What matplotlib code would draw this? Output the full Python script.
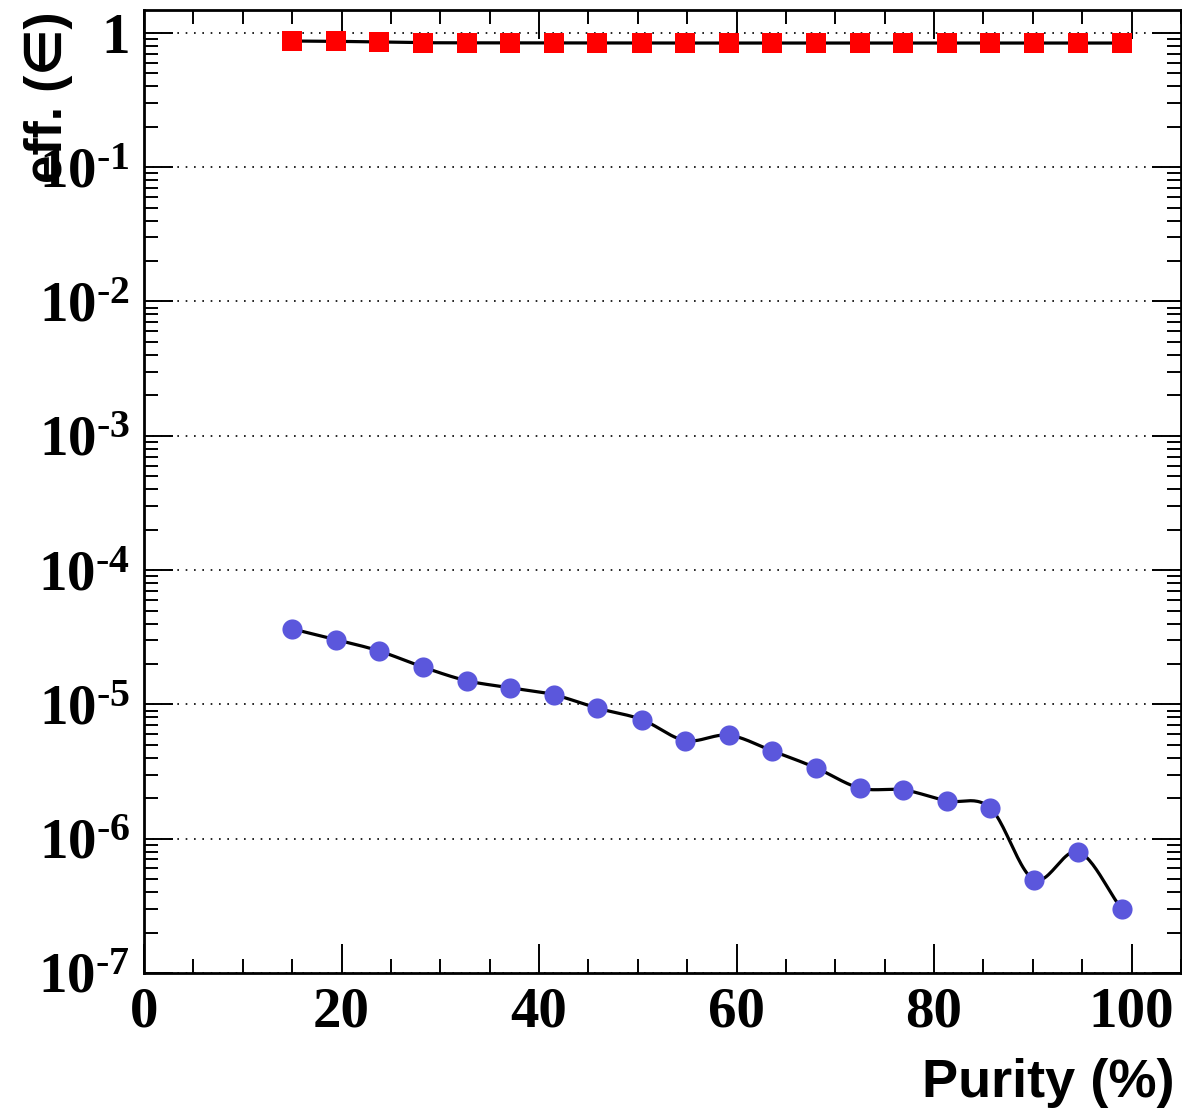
import numpy as np
import matplotlib
matplotlib.use("Agg")
import matplotlib.pyplot as plt
from matplotlib.ticker import FixedLocator, LogLocator, NullFormatter, FuncFormatter

plt.rcParams["font.family"] = ["Liberation Serif", "DejaVu Serif"]
plt.rcParams["font.weight"] = "bold"
plt.rcParams["mathtext.fontset"] = "custom"
plt.rcParams["mathtext.bf"] = "Liberation Serif:bold"
plt.rcParams["mathtext.rm"] = "Liberation Serif:bold"
plt.rcParams["mathtext.it"] = "Liberation Serif:bold"

# ---- data ----
purity = [15.0, 19.4, 23.8, 28.3, 32.7, 37.1, 41.5, 45.9, 50.4, 54.8,
          59.2, 63.6, 68.0, 72.5, 76.9, 81.3, 85.7, 90.1, 94.6, 99.0]
eff_signal = [0.870, 0.865, 0.855, 0.845, 0.843, 0.842, 0.840, 0.840, 0.840, 0.840,
              0.840, 0.840, 0.840, 0.840, 0.840, 0.840, 0.840, 0.840, 0.840, 0.840]
eff_background = [3.65e-5, 3.04e-5, 2.50e-5, 1.89e-5, 1.50e-5, 1.33e-5, 1.18e-5, 9.37e-6,
                  7.71e-6, 5.38e-6, 5.90e-6, 4.51e-6, 3.38e-6, 2.38e-6, 2.31e-6, 1.91e-6,
                  1.69e-6, 4.96e-7, 7.98e-7, 2.99e-7]
x_ticks = [0, 20, 40, 60, 80, 100]
y_decades = [1e-7, 1e-6, 1e-5, 1e-4, 1e-3, 1e-2, 1e-1, 1]


def smooth(x, y, n=24):
    """Catmull-Rom curve through points, in (x, log10 y) space (ROOT 'C' style)."""
    px = np.asarray(x, float)
    py = np.log10(np.asarray(y, float))
    P = np.column_stack([px, py])
    P = np.vstack([2 * P[0] - P[1], P, 2 * P[-1] - P[-2]])
    out = []
    t = np.linspace(0, 1, n, endpoint=False)[:, None]
    for i in range(1, len(P) - 2):
        p0, p1, p2, p3 = P[i - 1], P[i], P[i + 1], P[i + 2]
        seg = 0.5 * ((2 * p1) + (-p0 + p2) * t + (2 * p0 - 5 * p1 + 4 * p2 - p3) * t ** 2
                     + (-p0 + 3 * p1 - 3 * p2 + p3) * t ** 3)
        out.append(seg)
    out.append(P[-2][None, :])
    out = np.vstack(out)
    return out[:, 0], 10 ** out[:, 1]


fig = plt.figure(figsize=(11.82, 11.17), dpi=100)
ax = fig.add_axes([144 / 1182, (1117 - 973) / 1117, (1181 - 144) / 1182, (973 - 10) / 1117])
ax.set_yscale("log")
ax.set_xlim(0, 105)
ax.set_ylim(1e-7, 1.48)

# grid (y decades only)
for yv in y_decades:
    ax.axhline(yv, color="black", lw=1.2, ls=(0, (1, 4)), zorder=1)

sx, sy = smooth(purity, eff_signal)
ax.plot(sx, sy, color="black", lw=2.3, zorder=2)
bx, by = smooth(purity, eff_background)
ax.plot(bx, by, color="black", lw=2.3, zorder=2)

ax.plot(purity, eff_signal, ls="none", marker="s", ms=14, color="#ff0000",
        markeredgewidth=0, zorder=3)
ax.plot(purity, eff_background, ls="none", marker="o", ms=14.5, color="#5b57dc",
        markeredgewidth=0, zorder=3)

# ticks
ax.xaxis.set_major_locator(FixedLocator(x_ticks))
ax.xaxis.set_minor_locator(FixedLocator(np.arange(0, 106, 5)))
ax.yaxis.set_major_locator(FixedLocator(y_decades))
ax.yaxis.set_minor_locator(LogLocator(base=10, subs=np.arange(2, 10), numticks=20))
ax.yaxis.set_minor_formatter(NullFormatter())


def yfmt(v, pos):
    e = int(round(np.log10(v)))
    if e == 0:
        return "1"
    return r"$\mathbf{10^{\text{-}%d}}$" % (-e)


ax.yaxis.set_major_formatter(FuncFormatter(yfmt))
ax.xaxis.set_major_formatter(FuncFormatter(lambda v, p: "%d" % v))

ax.tick_params(which="both", direction="in", top=True, right=True, width=1.4, color="black")
ax.tick_params(which="major", length=21, labelsize=41)
ax.tick_params(which="minor", length=10)
ax.tick_params(axis="x", which="major", pad=10)
ax.tick_params(axis="y", which="major", pad=10)

for sp in ax.spines.values():
    sp.set_linewidth(2)

ax.set_xlabel("Purity (%)", loc="right", fontsize=39, fontweight="bold",
              family=["Liberation Sans", "DejaVu Sans"], va="center")
ax.xaxis.set_label_coords(0.994, -0.114)
ax.set_ylabel("eff. (\u2208)", loc="top", fontsize=37, fontweight="bold",
              family=["Liberation Sans", "DejaVu Sans"], va="center")
ax.yaxis.set_label_coords(-0.092, 0.998)

fig.savefig("out.png", dpi=100)
